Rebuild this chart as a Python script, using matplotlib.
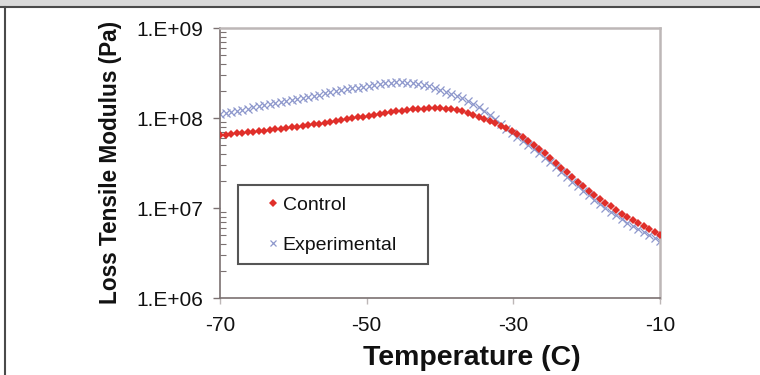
import matplotlib

matplotlib.use("Agg")
import matplotlib.pyplot as plt
import numpy as np
from matplotlib.lines import Line2D
from matplotlib.patches import Rectangle
from matplotlib.ticker import FixedLocator, FuncFormatter, LogLocator, NullFormatter

plt.rcParams["font.family"] = ["Liberation Sans", "DejaVu Sans"]
plt.rcParams["axes.unicode_minus"] = False

# 温度 (C)
temperature = [
    -70.0, -69.25, -68.5, -67.75, -67.0, -66.25, -65.5, -64.75, -64.0, -63.25,
    -62.5, -61.75, -61.0, -60.25, -59.5, -58.75, -58.0, -57.25, -56.5, -55.75,
    -55.0, -54.25, -53.5, -52.75, -52.0, -51.25, -50.5, -49.75, -49.0, -48.25,
    -47.5, -46.75, -46.0, -45.25, -44.5, -43.75, -43.0, -42.25, -41.5, -40.75,
    -40.0, -39.25, -38.5, -37.75, -37.0, -36.25, -35.5, -34.75, -34.0, -33.25,
    -32.5, -31.75, -31.0, -30.25, -29.5, -28.75, -28.0, -27.25, -26.5, -25.75,
    -25.0, -24.25, -23.5, -22.75, -22.0, -21.25, -20.5, -19.75, -19.0, -18.25,
    -17.5, -16.75, -16.0, -15.25, -14.5, -13.75, -13.0, -12.25, -11.5, -10.75,
    -10.0,
]

# Loss tensile modulus (Pa)
control = [
    6.46e7, 6.55e7, 6.64e7, 6.73e7, 6.84e7, 6.93e7, 7.03e7, 7.14e7, 7.24e7, 7.36e7,
    7.48e7, 7.60e7, 7.73e7, 7.85e7, 8.00e7, 8.15e7, 8.30e7, 8.47e7, 8.65e7, 8.83e7,
    9.04e7, 9.25e7, 9.46e7, 9.68e7, 9.91e7, 1.014e8, 1.038e8, 1.062e8, 1.086e8, 1.112e8,
    1.135e8, 1.159e8, 1.183e8, 1.205e8, 1.225e8, 1.245e8, 1.259e8, 1.274e8, 1.282e8, 1.288e8,
    1.285e8, 1.274e8, 1.253e8, 1.222e8, 1.183e8, 1.138e8, 1.089e8, 1.038e8, 9.86e7, 9.33e7,
    8.79e7, 8.24e7, 7.69e7, 7.14e7, 6.61e7, 6.08e7, 5.57e7, 5.06e7, 4.55e7, 4.06e7,
    3.60e7, 3.18e7, 2.81e7, 2.48e7, 2.20e7, 1.96e7, 1.75e7, 1.56e7, 1.40e7, 1.26e7,
    1.15e7, 1.04e7, 9.48e6, 8.67e6, 7.96e6, 7.33e6, 6.76e6, 6.27e6, 5.82e6, 5.42e6,
    5.06e6,
]

experimental = [
    1.109e8, 1.140e8, 1.172e8, 1.205e8, 1.239e8, 1.274e8, 1.309e8, 1.346e8, 1.384e8, 1.422e8,
    1.462e8, 1.503e8, 1.545e8, 1.589e8, 1.633e8, 1.679e8, 1.726e8, 1.774e8, 1.824e8, 1.875e8,
    1.928e8, 1.977e8, 2.028e8, 2.080e8, 2.128e8, 2.178e8, 2.228e8, 2.291e8, 2.344e8, 2.393e8,
    2.432e8, 2.460e8, 2.483e8, 2.489e8, 2.472e8, 2.438e8, 2.388e8, 2.323e8, 2.244e8, 2.158e8,
    2.065e8, 1.968e8, 1.871e8, 1.770e8, 1.667e8, 1.549e8, 1.432e8, 1.312e8, 1.191e8, 1.076e8,
    9.66e7, 8.51e7, 7.55e7, 6.76e7, 6.12e7, 5.57e7, 5.06e7, 4.57e7, 4.09e7, 3.64e7,
    3.22e7, 2.84e7, 2.51e7, 2.21e7, 1.96e7, 1.74e7, 1.55e7, 1.38e7, 1.24e7, 1.11e7,
    1.005e7, 9.10e6, 8.26e6, 7.53e6, 6.89e6, 6.31e6, 5.81e6, 5.36e6, 4.95e6, 4.59e6,
    4.27e6,
]

x_ticks = [-70, -50, -30, -10]
y_ticks = [1e6, 1e7, 1e8, 1e9]

RED = "#e02f2a"
BLUE = "#8e98cc"
AXIS = "#7b7171"
FRAME = "#bdb7b7"

W, H = 760, 375
fig = plt.figure(figsize=(W / 100, H / 100), dpi=100)

# 外枠（上の灰色帯と線）
fig.patches.append(Rectangle((0, 1 - 6 / H), 1, 6 / H, transform=fig.transFigure,
                             facecolor="#d9d9d9", edgecolor="none"))
fig.lines.append(Line2D([0, 1], [1 - 6.5 / H] * 2, transform=fig.transFigure, color="#4a4a4a", lw=1.5))
fig.lines.append(Line2D([4.5 / W] * 2, [0, 1 - 6.5 / H], transform=fig.transFigure, color="#4a4a4a", lw=1.5))

ax = fig.add_axes([220 / W, 1 - 298 / H, 440 / W, 270 / H])
ax.set_yscale("log")
ax.set_xlim(-70, -10)
ax.set_ylim(1e6, 1e9)

ax.plot(temperature, experimental, linestyle="none", marker="x", markersize=5.5,
        markeredgewidth=0.9, color=BLUE, label="Experimental", zorder=2)
ax.plot(temperature, control, linestyle="none", marker="D", markersize=4.2,
        markeredgewidth=0, color=RED, label="Control", zorder=3)

ax.xaxis.set_major_locator(FixedLocator(x_ticks))
ax.set_xticklabels([str(t) for t in x_ticks])
ax.yaxis.set_major_locator(FixedLocator(y_ticks))
ax.yaxis.set_major_formatter(FuncFormatter(lambda v, _: f"1.E+{int(round(np.log10(v))):02d}"))
ax.yaxis.set_minor_locator(LogLocator(base=10, subs=np.arange(2, 10)))
ax.yaxis.set_minor_formatter(NullFormatter())

ax.tick_params(axis="x", which="major", direction="out", length=4, width=1, color=FRAME,
               labelsize=15, pad=9, labelcolor="#111111")
ax.tick_params(axis="y", which="major", direction="out", length=5, width=1, color=AXIS,
               labelsize=15, pad=7, labelcolor="#111111")
ax.tick_params(axis="y", which="minor", direction="in", length=4, width=0.8, color=AXIS)

for side in ("left", "bottom"):
    ax.spines[side].set_color(AXIS)
    ax.spines[side].set_linewidth(1.2)
for side in ("top", "right"):
    ax.spines[side].set_color(FRAME)
    ax.spines[side].set_linewidth(1.8)

# 凡例の枠は手で描く
ax.add_patch(Rectangle(((238 - 220) / 440, (298 - 264) / 270), 190 / 440, 79 / 270,
                       transform=ax.transAxes, facecolor="white", edgecolor="#555555",
                       linewidth=1.5, zorder=4))
handles, labels = ax.get_legend_handles_labels()
leg = ax.legend(handles[::-1], labels[::-1], loc="upper left",
                bbox_to_anchor=((267 - 220) / 440, (298 - 196) / 270),
                fontsize=14, frameon=False, borderpad=0, labelspacing=1.17,
                handlelength=0.6, handletextpad=0.2, borderaxespad=0, markerscale=0.9)
leg.set_zorder(5)
for txt in leg.get_texts():
    txt.set_color("#111111")

fig.text(472 / W, 1 - 365 / H, "Temperature (C)", ha="center", va="baseline",
         fontsize=20.5, fontweight="bold", color="#111111")
fig.text(111 / W, 1 - 162 / H, "Loss Tensile Modulus (Pa)", ha="center", va="center",
         rotation=90, fontsize=16.3, fontweight="bold", color="#111111")

fig.savefig("out.png", dpi=100, facecolor="white")
